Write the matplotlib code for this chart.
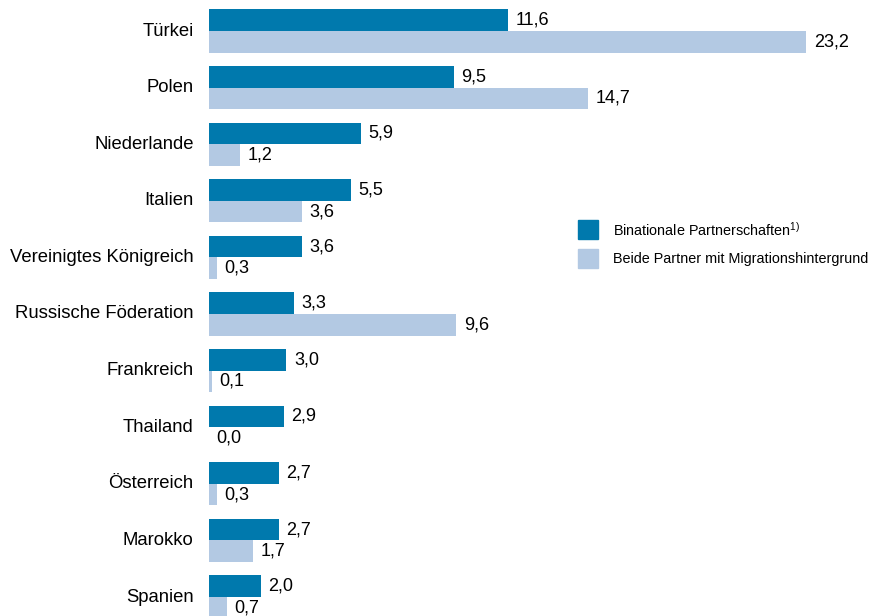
import matplotlib.pyplot as plt
from matplotlib.patches import Rectangle
import numpy as np

plt.rcParams['font.family'] = ['Liberation Sans', 'DejaVu Sans']
plt.rcParams['mathtext.fontset'] = 'custom'
plt.rcParams['mathtext.rm'] = 'Liberation Sans'

# -----------------------
# Data
# -----------------------
countries = ["Türkei", "Polen", "Niederlande", "Italien", "Vereinigtes Königreich",
             "Russische Föderation", "Frankreich", "Thailand", "Österreich",
             "Marokko", "Spanien"]
binational = [11.6, 9.5, 5.9, 5.5, 3.6, 3.3, 3.0, 2.9, 2.7, 2.7, 2.0]
beide = [23.2, 14.7, 1.2, 3.6, 0.3, 9.6, 0.1, 0.0, 0.3, 1.7, 0.7]

label_bin = "Binationale Partnerschaften$^{1)}$"
label_beide = "Beide Partner mit Migrationshintergrund"

dark = "#0079ad"
light = "#b3c9e3"

# -----------------------
# Plot
# -----------------------
W, H = 874, 616
fig = plt.figure(figsize=(W / 100, H / 100), dpi=100)
ax = fig.add_axes([209 / W, 0, 25 * 25.75 / W, 1])

y = np.arange(len(countries))
h = 0.38
ax.barh(y - h / 2, binational, height=h, color=dark)
ax.barh(y + h / 2, beide, height=h, color=light)

ax.set_xlim(0, 25)
ax.set_ylim(585 / 56.6, -31 / 56.6)
ax.axis("off")

def fmt(v):
    return f"{v:.1f}".replace(".", ",")

for yi, v in zip(y, binational):
    ax.annotate(fmt(v), (v, yi - h / 2), xytext=(5.5, 0), textcoords="offset points",
                va="center", ha="left", fontsize=13)
for yi, v in zip(y, beide):
    ax.annotate(fmt(v), (v, yi + h / 2), xytext=(5.5, 0), textcoords="offset points",
                va="center", ha="left", fontsize=13)

for yi, name in zip(y, countries):
    ax.annotate(name, (0, yi), xytext=(-11, 0), textcoords="offset points",
                va="center", ha="right", fontsize=13.3)

# Legend
for i, (col, lab) in enumerate([(dark, label_bin), (light, label_beide)]):
    top = 220 + i * 29
    fig.add_artist(Rectangle((578 / W, 1 - (top + 19) / H), 20 / W, 19 / H,
                             transform=fig.transFigure, color=col))
    fig.text(613 / W, 1 - (top + 9.5) / H, lab, va="center", ha="left", fontsize=10.4)

plt.savefig("out.png", dpi=100)
